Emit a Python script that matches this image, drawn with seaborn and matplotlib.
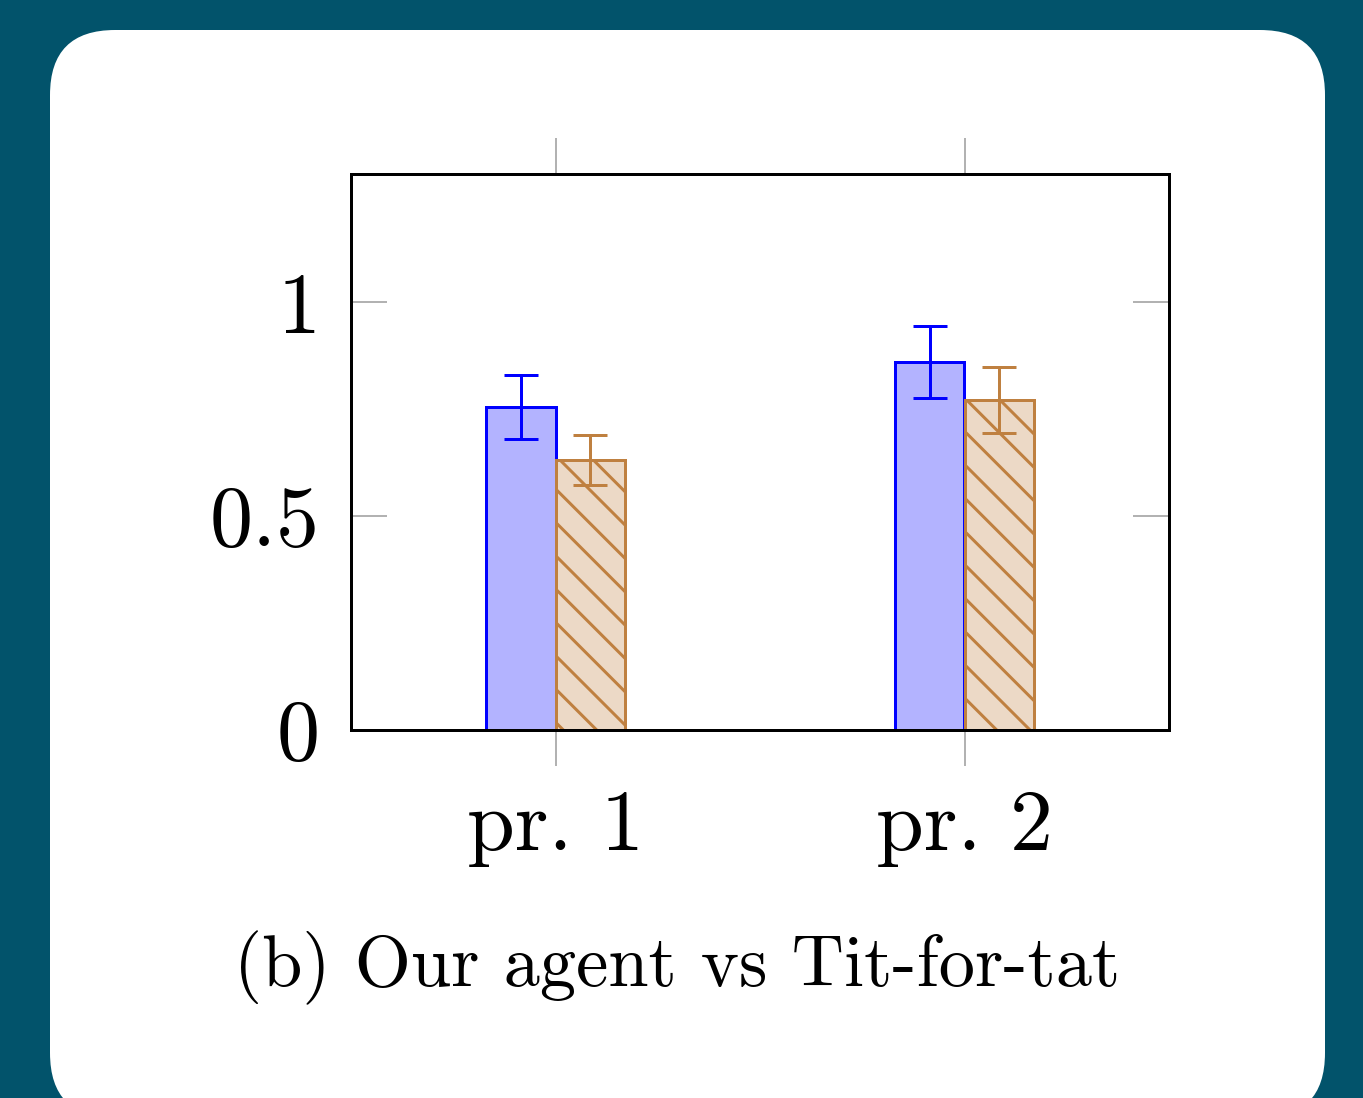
import matplotlib
matplotlib.use("Agg")
import matplotlib.pyplot as plt
from matplotlib.patches import FancyBboxPatch
import seaborn as sns
import pandas as pd

# ── Data ──────────────────────────────────────────────────────────────────────
categories = ["pr. 1", "pr. 2"]
series = ["Our agent", "Tit-for-tat"]
agent_vals = [0.755, 0.860]
agent_err = [0.075, 0.084]
tft_vals = [0.631, 0.771]
tft_err = [0.058, 0.077]
y_ticks = [0, 0.5, 1]
y_labels = ["0", "0.5", "1"]
caption = "(b) Our agent vs Tit-for-tat"

# ── Style ─────────────────────────────────────────────────────────────────────
BG = "#02536B"
BLUE, BLUE_FILL = "#0000FF", "#B3B3FF"
BROWN, BROWN_FILL = "#BF8040", "#ECD9C6"
TICK_GRAY = "#A0A0A0"

DPI = 100
W, H = 1363, 1098


def px(v):
    # pixels -> points
    return v * 72 / DPI


sns.set_style("white")
plt.rcParams.update({
    "font.family": ["cmr10", "DejaVu Serif"],
    "axes.formatter.use_mathtext": True,
    "hatch.linewidth": px(3.0),
    "hatch.color": BROWN,
    "text.color": "black",
})

fig = plt.figure(figsize=(W / DPI, H / DPI), dpi=DPI, facecolor=BG)

# white rounded card behind everything
card = FancyBboxPatch((50 / DPI, -20 / DPI), 1275 / DPI, 1088 / DPI,
                      boxstyle=f"round,pad=0,rounding_size={65 / DPI}",
                      transform=fig.dpi_scale_trans, facecolor="white",
                      edgecolor="none", zorder=-10)
fig.patches.append(card)

ax = fig.add_axes([351 / W, 1 - 730 / H, 818 / W, 556 / H])
ax.set_facecolor("none")

df = pd.DataFrame({
    "cat": categories * 2,
    "series": [series[0]] * 2 + [series[1]] * 2,
    "val": agent_vals + tft_vals,
    "err": agent_err + tft_err,
})

sns.barplot(data=df, x="cat", y="val", hue="series", hue_order=series,
            order=categories, errorbar=None, width=0.338, dodge=True,
            palette=[BLUE_FILL, BROWN_FILL], saturation=1, legend=False,
            ax=ax, zorder=2)

edges = {series[0]: BLUE, series[1]: BROWN}
for container, name in zip(ax.containers, series):
    sub = df[df.series == name].set_index("cat").loc[categories]
    for bar, v, e in zip(container, sub.val, sub.err):
        bar.set_edgecolor(edges[name])
        bar.set_linewidth(px(3.0))
        if name == series[1]:
            bar.set_hatch("\\")
        xc = bar.get_x() + bar.get_width() / 2
        ax.errorbar(xc, v, yerr=e, color=edges[name], elinewidth=px(3.0),
                    capsize=px(17), capthick=px(3.0), fmt="none", zorder=3)

ax.set_xlim(-0.5, 1.5)
ax.set_ylim(0, 1.3)
ax.set_yticks(y_ticks)
ax.set_yticklabels(y_labels)
ax.set_xlabel("")
ax.set_ylabel("")

for s in ax.spines.values():
    s.set_visible(True)
    s.set_color("black")
    s.set_linewidth(px(3))
    s.set_zorder(4)

ax.tick_params(axis="y", direction="in", left=True, right=True, length=px(36),
               width=px(1.6), color=TICK_GRAY, labelsize=px(86),
               labelcolor="black", pad=px(31))
ax.tick_params(axis="x", direction="out", bottom=True, top=True, length=px(36),
               width=px(1.6), color=TICK_GRAY, labelsize=px(86),
               labelcolor="black", pad=px(24))

fig.text(677 / W, 1 - 968 / H, caption, ha="center", va="center",
         fontsize=px(72.5), color="black")

fig.savefig("out.png", dpi=DPI, facecolor=BG)
